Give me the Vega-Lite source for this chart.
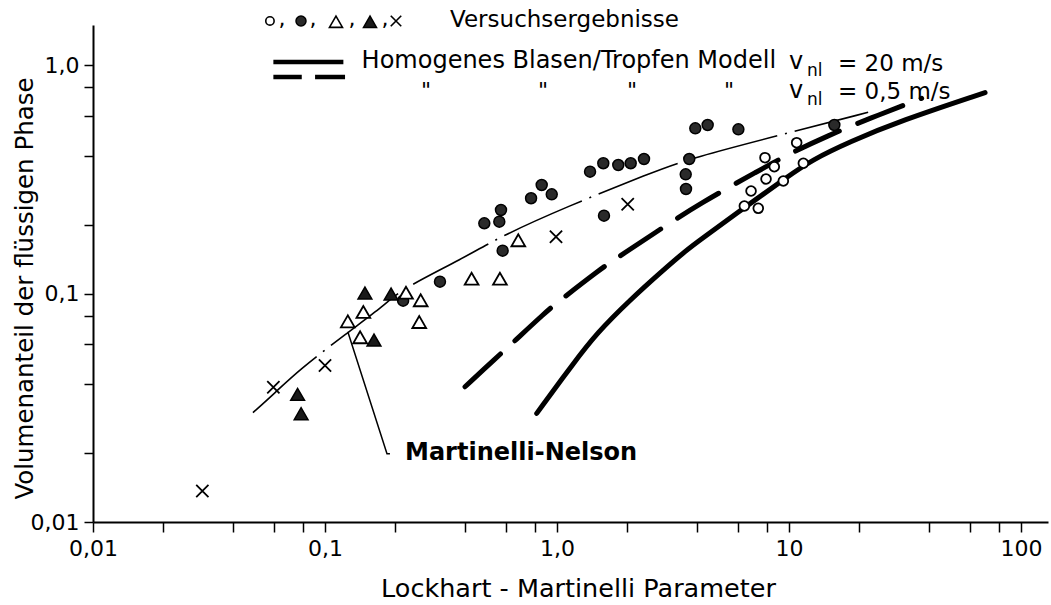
{
  "$schema": "https://vega.github.io/schema/vega-lite/v6.json",
  "width": 955,
  "height": 497,
  "autosize": {"type": "none"},
  "padding": {"left": 93, "top": 25, "right": 3, "bottom": 83},
  "background": "white",
  "config": {"view": {"stroke": null}, "font": "DejaVu Sans"},
  "datasets": {
    "curves": [
      {"c": "mn", "x": 0.0489, "y": 0.0301}, {"c": "mn", "x": 0.0609, "y": 0.0368}, {"c": "mn", "x": 0.0773, "y": 0.0463},
      {"c": "mn", "x": 0.124, "y": 0.0671}, {"c": "mn", "x": 0.1815, "y": 0.0892}, {"c": "mn", "x": 0.2105, "y": 0.1037},
      {"c": "mn", "x": 0.3945, "y": 0.1428}, {"c": "mn", "x": 0.5675, "y": 0.1775}, {"c": "mn", "x": 1.101, "y": 0.2402},
      {"c": "mn", "x": 2.517, "y": 0.3364}, {"c": "mn", "x": 3.744, "y": 0.3914}, {"c": "mn", "x": 10.83, "y": 0.5167},
      {"c": "mn", "x": 21.93, "y": 0.6222},
      {"c": "d05", "x": 0.4013, "y": 0.0391}, {"c": "d05", "x": 0.5496, "y": 0.0526}, {"c": "d05", "x": 0.623, "y": 0.059},
      {"c": "d05", "x": 0.897, "y": 0.0833}, {"c": "d05", "x": 1.013, "y": 0.0922}, {"c": "d05", "x": 1.543, "y": 0.1282},
      {"c": "d05", "x": 1.738, "y": 0.1393}, {"c": "d05", "x": 2.645, "y": 0.1848}, {"c": "d05", "x": 4.134, "y": 0.2485},
      {"c": "d05", "x": 7.5, "y": 0.3477}, {"c": "d05", "x": 9.93, "y": 0.4074}, {"c": "d05", "x": 14.58, "y": 0.4898},
      {"c": "d05", "x": 22.3, "y": 0.5856}, {"c": "d05", "x": 37.3, "y": 0.7163},
      {"c": "s20", "x": 0.8176, "y": 0.0299}, {"c": "s20", "x": 1.176, "y": 0.0495}, {"c": "s20", "x": 1.483, "y": 0.0671},
      {"c": "s20", "x": 2.064, "y": 0.0938}, {"c": "s20", "x": 2.872, "y": 0.1269}, {"c": "s20", "x": 3.622, "y": 0.1552},
      {"c": "s20", "x": 4.134, "y": 0.1717}, {"c": "s20", "x": 6.572, "y": 0.2418}, {"c": "s20", "x": 9.77, "y": 0.3231},
      {"c": "s20", "x": 12.53, "y": 0.3846}, {"c": "s20", "x": 18.32, "y": 0.4626}, {"c": "s20", "x": 30.1, "y": 0.5699},
      {"c": "s20", "x": 69.97, "y": 0.7584},
      {"c": "lead", "x": 0.1254, "y": 0.0681}, {"c": "lead", "x": 0.185, "y": 0.0199}, {"c": "lead", "x": 0.1905, "y": 0.0199}
    ],
    "legline": [
      {"seg": "s1", "x": 0.0599, "y": 1.033}, {"seg": "s1", "x": 0.12, "y": 1.033},
      {"seg": "d1", "x": 0.0599, "y": 0.888}, {"seg": "d1", "x": 0.0794, "y": 0.888},
      {"seg": "d2", "x": 0.0906, "y": 0.888}, {"seg": "d2", "x": 0.122, "y": 0.888}
    ],
    "pts": [
      {"type": "o", "x": 10.79, "y": 0.4579}, {"type": "o", "x": 7.88, "y": 0.3937}, {"type": "o", "x": 8.64, "y": 0.3594},
      {"type": "o", "x": 7.96, "y": 0.3175}, {"type": "o", "x": 9.45, "y": 0.3113}, {"type": "o", "x": 6.86, "y": 0.2813},
      {"type": "o", "x": 6.42, "y": 0.2418}, {"type": "o", "x": 7.37, "y": 0.2363}, {"type": "o", "x": 11.53, "y": 0.3721},
      {"type": "f", "x": 0.2171, "y": 0.0931}, {"type": "f", "x": 0.313, "y": 0.1128}, {"type": "f", "x": 0.486, "y": 0.2032},
      {"type": "f", "x": 0.564, "y": 0.2065}, {"type": "f", "x": 0.5735, "y": 0.2323}, {"type": "f", "x": 0.773, "y": 0.2615},
      {"type": "f", "x": 0.859, "y": 0.2989}, {"type": "f", "x": 0.949, "y": 0.2722}, {"type": "f", "x": 0.583, "y": 0.1541},
      {"type": "f", "x": 1.388, "y": 0.3418}, {"type": "f", "x": 1.583, "y": 0.3721}, {"type": "f", "x": 1.837, "y": 0.3657},
      {"type": "f", "x": 2.078, "y": 0.3721}, {"type": "f", "x": 2.371, "y": 0.3885}, {"type": "f", "x": 1.594, "y": 0.2194},
      {"type": "f", "x": 3.945, "y": 0.5294}, {"type": "f", "x": 4.46, "y": 0.5474}, {"type": "f", "x": 6.05, "y": 0.524},
      {"type": "f", "x": 3.716, "y": 0.3885}, {"type": "f", "x": 3.587, "y": 0.333}, {"type": "f", "x": 3.597, "y": 0.2871},
      {"type": "f", "x": 15.68, "y": 0.5474},
      {"type": "ot", "x": 0.1254, "y": 0.0756}, {"type": "ot", "x": 0.1463, "y": 0.0831}, {"type": "ot", "x": 0.1417, "y": 0.0644},
      {"type": "ot", "x": 0.2234, "y": 0.1009}, {"type": "ot", "x": 0.2585, "y": 0.0935}, {"type": "ot", "x": 0.2548, "y": 0.0751},
      {"type": "ot", "x": 0.4285, "y": 0.1162}, {"type": "ot", "x": 0.5675, "y": 0.1162}, {"type": "ot", "x": 0.681, "y": 0.1712},
      {"type": "ft", "x": 0.1486, "y": 0.1006}, {"type": "ft", "x": 0.1926, "y": 0.0996}, {"type": "ft", "x": 0.1626, "y": 0.0626},
      {"type": "ft", "x": 0.0762, "y": 0.0362}, {"type": "ft", "x": 0.0789, "y": 0.0298},
      {"type": "x", "x": 0.0296, "y": 0.01367}, {"type": "x", "x": 0.0599, "y": 0.0389}, {"type": "x", "x": 0.1, "y": 0.0484},
      {"type": "x", "x": 0.99, "y": 0.1775}, {"type": "x", "x": 2.017, "y": 0.246}
    ],
    "legsym": [
      {"type": "o", "x": 0.0579, "y": 1.562}, {"type": "f", "x": 0.0788, "y": 1.562}, {"type": "ot", "x": 0.1115, "y": 1.55},
      {"type": "ft", "x": 0.1563, "y": 1.55}, {"type": "x", "x": 0.2023, "y": 1.562}
    ],
    "texts": [
      {"kind": "big", "t": "Versuchsergebnisse", "x": 0.3458, "y": 1.47},
      {"kind": "big2", "t": "Homogenes Blasen/Tropfen Modell", "x": 0.1438, "y": 0.972},
      {"kind": "big2", "t": "v", "x": 10.0, "y": 0.962},
      {"kind": "sub", "t": "nl", "x": 11.96, "y": 0.897},
      {"kind": "big", "t": "= 20 m/s", "x": 16.26, "y": 0.943},
      {"kind": "big2", "t": "v", "x": 10.0, "y": 0.7186},
      {"kind": "sub", "t": "nl", "x": 11.96, "y": 0.6695},
      {"kind": "big", "t": "= 0,5 m/s", "x": 16.26, "y": 0.711},
      {"kind": "ditto", "t": "\"", "x": 0.2724, "y": 0.7186},
      {"kind": "ditto", "t": "\"", "x": 0.87, "y": 0.7186},
      {"kind": "ditto", "t": "\"", "x": 2.105, "y": 0.7186},
      {"kind": "ditto", "t": "\"", "x": 5.512, "y": 0.7186},
      {"kind": "ditto", "t": ",", "x": 0.0653, "y": 1.484},
      {"kind": "ditto", "t": ",", "x": 0.0888, "y": 1.484},
      {"kind": "ditto", "t": ",", "x": 0.1307, "y": 1.484},
      {"kind": "ditto", "t": ",", "x": 0.1814, "y": 1.484},
      {"kind": "label", "t": "Martinelli-Nelson", "x": 0.2213, "y": 0.0187}
    ]
  },
  "encoding": {
    "x": {
      "field": "x", "type": "quantitative",
      "scale": {"type": "log", "domain": [0.01, 130.7], "nice": false},
      "axis": {
        "values": [0.01, 0.02, 0.04, 0.06, 0.08, 0.1, 0.2, 0.4, 0.6, 0.8, 1, 2, 4, 6, 8, 10, 20, 40, 60, 80, 100],
        "labelExpr": "datum.value == 0.01 ? '0,01' : datum.value == 0.1 ? '0,1' : datum.value == 1 ? '1,0' : datum.value == 10 ? '10' : datum.value == 100 ? '100' : ''",
        "title": "Lockhart - Martinelli Parameter",
        "grid": false, "domainColor": "black", "domainWidth": 2, "tickColor": "black", "tickWidth": 1.5, "tickSize": 10,
        "labelFont": "DejaVu Sans", "labelFontSize": 22, "labelColor": "black", "labelPadding": 6, "labelFlush": false, "labelOverlap": false, "labelBound": false,
        "titleFont": "DejaVu Sans", "titleFontSize": 25.5, "titleFontWeight": "normal", "titleColor": "black",
        "titleX": 485, "titleY": 66, "titleBaseline": "middle", "titleAlign": "center"
      }
    },
    "y": {
      "field": "y", "type": "quantitative",
      "scale": {"type": "log", "domain": [0.01, 1.5], "nice": false},
      "axis": {
        "values": [0.01, 0.02, 0.04, 0.06, 0.08, 0.1, 0.2, 0.4, 0.6, 0.8, 1],
        "labelExpr": "datum.value == 0.01 ? '0,01' : datum.value == 0.1 ? '0,1' : datum.value == 1 ? '1,0' : ''",
        "title": "Volumenanteil der flüssigen Phase",
        "grid": false, "domainColor": "black", "domainWidth": 2, "tickColor": "black", "tickWidth": 1.5, "tickSize": 9,
        "labelFont": "DejaVu Sans", "labelFontSize": 22, "labelColor": "black", "labelPadding": 5, "labelOverlap": false, "labelBound": false, "labelFlush": false,
        "titleFont": "DejaVu Sans", "titleFontSize": 24.5, "titleFontWeight": "normal", "titleColor": "black",
        "titleX": -68, "titleY": 263, "titleAngle": 270, "titleBaseline": "middle", "titleAlign": "center"
      }
    }
  },
  "layer": [
    {"data": {"name": "curves"}, "transform": [{"filter": "datum.c == 's20'"}],
     "mark": {"type": "line", "color": "black", "strokeWidth": 5, "strokeCap": "round", "interpolate": "basis"}},
    {"data": {"name": "curves"}, "transform": [{"filter": "datum.c == 'd05'"}],
     "mark": {"type": "line", "color": "black", "strokeWidth": 5, "strokeCap": "round", "strokeDash": [48, 20], "interpolate": "basis"}},
    {"data": {"name": "curves"}, "transform": [{"filter": "datum.c == 'mn'"}],
     "mark": {"type": "line", "color": "black", "strokeWidth": 1.6, "strokeDash": [85, 8, 2, 8], "interpolate": "basis"}},
    {"data": {"name": "curves"}, "transform": [{"filter": "datum.c == 'lead'"}],
     "mark": {"type": "line", "color": "black", "strokeWidth": 1.5}},
    {"data": {"name": "legline"},
     "mark": {"type": "line", "color": "black", "strokeWidth": 4.5},
     "encoding": {"detail": {"field": "seg", "type": "nominal"}}},
    {"data": {"name": "pts"}, "transform": [{"filter": "datum.type == 'o'"}],
     "mark": {"type": "point", "shape": "circle", "filled": true, "fill": "white", "stroke": "black", "strokeWidth": 1.8, "opacity": 1, "size": 95}},
    {"data": {"name": "pts"}, "transform": [{"filter": "datum.type == 'f'"}],
     "mark": {"type": "point", "shape": "circle", "filled": true, "fill": "#2a2a2a", "stroke": "black", "strokeWidth": 1.5, "opacity": 1, "size": 120}},
    {"data": {"name": "pts"}, "transform": [{"filter": "datum.type == 'ot'"}],
     "mark": {"type": "point", "shape": "triangle-up", "filled": true, "fill": "white", "stroke": "black", "strokeWidth": 1.8, "opacity": 1, "size": 190}},
    {"data": {"name": "pts"}, "transform": [{"filter": "datum.type == 'ft'"}],
     "mark": {"type": "point", "shape": "triangle-up", "filled": true, "fill": "#1a1a1a", "stroke": "black", "strokeWidth": 1.5, "opacity": 1, "size": 190}},
    {"data": {"name": "pts"}, "transform": [{"filter": "datum.type == 'x'"}],
     "mark": {"type": "point", "shape": "M-1,-1L1,1M1,-1L-1,1", "filled": false, "stroke": "black", "strokeWidth": 1.8, "opacity": 1, "size": 150}},
    {"data": {"name": "legsym"}, "transform": [{"filter": "datum.type == 'o'"}],
     "mark": {"type": "point", "shape": "circle", "filled": true, "fill": "white", "stroke": "black", "strokeWidth": 1.6, "opacity": 1, "size": 70}},
    {"data": {"name": "legsym"}, "transform": [{"filter": "datum.type == 'f'"}],
     "mark": {"type": "point", "shape": "circle", "filled": true, "fill": "#2a2a2a", "stroke": "black", "strokeWidth": 1.5, "opacity": 1, "size": 100}},
    {"data": {"name": "legsym"}, "transform": [{"filter": "datum.type == 'ot'"}],
     "mark": {"type": "point", "shape": "triangle-up", "filled": true, "fill": "white", "stroke": "black", "strokeWidth": 1.6, "opacity": 1, "size": 170}},
    {"data": {"name": "legsym"}, "transform": [{"filter": "datum.type == 'ft'"}],
     "mark": {"type": "point", "shape": "triangle-up", "filled": true, "fill": "#1a1a1a", "stroke": "black", "strokeWidth": 1.5, "opacity": 1, "size": 170}},
    {"data": {"name": "legsym"}, "transform": [{"filter": "datum.type == 'x'"}],
     "mark": {"type": "point", "shape": "M-1,-1L1,1M1,-1L-1,1", "filled": false, "stroke": "black", "strokeWidth": 1.6, "opacity": 1, "size": 110}},
    {"data": {"name": "texts"}, "transform": [{"filter": "datum.kind == 'big'"}],
     "mark": {"type": "text", "align": "left", "baseline": "alphabetic", "fontSize": 23, "font": "DejaVu Sans", "color": "black"},
     "encoding": {"text": {"field": "t"}}},
    {"data": {"name": "texts"}, "transform": [{"filter": "datum.kind == 'big2'"}],
     "mark": {"type": "text", "align": "left", "baseline": "alphabetic", "fontSize": 24, "font": "DejaVu Sans", "color": "black"},
     "encoding": {"text": {"field": "t"}}},
    {"data": {"name": "texts"}, "transform": [{"filter": "datum.kind == 'sub'"}],
     "mark": {"type": "text", "align": "left", "baseline": "alphabetic", "fontSize": 17, "font": "DejaVu Sans", "color": "black"},
     "encoding": {"text": {"field": "t"}}},
    {"data": {"name": "texts"}, "transform": [{"filter": "datum.kind == 'ditto'"}],
     "mark": {"type": "text", "align": "center", "baseline": "alphabetic", "fontSize": 22, "font": "DejaVu Sans", "color": "black"},
     "encoding": {"text": {"field": "t"}}},
    {"data": {"name": "texts"}, "transform": [{"filter": "datum.kind == 'label'"}],
     "mark": {"type": "text", "align": "left", "baseline": "alphabetic", "fontSize": 24, "fontWeight": "bold", "font": "DejaVu Sans", "color": "black"},
     "encoding": {"text": {"field": "t"}}}
  ]
}
